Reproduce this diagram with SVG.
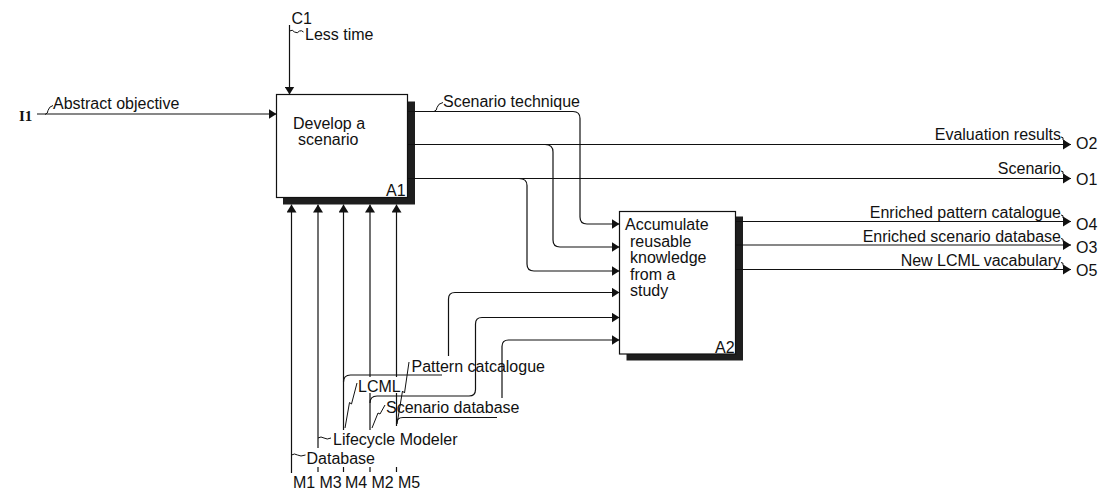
<svg xmlns="http://www.w3.org/2000/svg" width="1106" height="492" viewBox="0 0 1106 492">
<style>
.ln{fill:none;stroke:#111;stroke-width:1.2}
.lr{fill:none;stroke:#111;stroke-width:1}
.box{fill:#fff;stroke:#111;stroke-width:1.2}
.sh{fill:#1e1e1e}
text{font-family:"Liberation Sans",Arial,sans-serif;font-size:16px;fill:#111}
.sf{font-family:"Liberation Serif","Times New Roman",serif;font-size:15px;font-weight:bold}
.e{text-anchor:end}
</style>
<defs>
<marker id="ah" viewBox="0 0 8 10" refX="8" refY="5" markerWidth="8" markerHeight="10" markerUnits="userSpaceOnUse" orient="auto"><path d="M0,0 L8,5 L0,10 z" fill="#111"/></marker>
</defs>
<rect width="1106" height="492" fill="#fff"/>

<g id="A1">
<rect class="sh" x="283" y="101.5" width="132" height="103"/>
<rect class="box" x="276.5" y="94.5" width="131" height="103"/>
<text x="293" y="129">Develop a</text>
<text x="298" y="145">scenario</text>
<text x="386" y="196">A1</text>
</g>

<g id="A2">
<rect class="sh" x="626.5" y="216.5" width="116.5" height="144"/>
<rect class="box" x="619.5" y="211.5" width="116" height="142.5"/>
<text x="625" y="230">Accumulate</text>
<text x="630" y="246.5">reusable</text>
<text x="630" y="263">knowledge</text>
<text x="630" y="280">from a</text>
<text x="630" y="296">study</text>
<text x="715" y="353">A2</text>
</g>

<g id="connectors">
<path class="ln" d="M289.5,25 V94.5" marker-end="url(#ah)"/>
<path class="ln" d="M37,114 H276.5" marker-end="url(#ah)"/>
<path class="ln" d="M408,111.5 H573 Q580,111.5 580,118.5 V217 Q580,224 587,224 H619.5" marker-end="url(#ah)"/>
<path class="ln" d="M408,144.5 H1071" marker-end="url(#ah)"/>
<path class="ln" d="M545,144.5 Q553,144.5 553,152 V240 Q553,247 560,247 H619.5" marker-end="url(#ah)"/>
<path class="ln" d="M408,178.5 H1071" marker-end="url(#ah)"/>
<path class="ln" d="M519,178.5 Q527,178.5 527,185.5 V264 Q527,271 534,271 H619.5" marker-end="url(#ah)"/>
<path class="ln" d="M735,221.5 H1071" marker-end="url(#ah)"/>
<path class="ln" d="M735,245 H1071" marker-end="url(#ah)"/>
<path class="ln" d="M735,269.5 H1071" marker-end="url(#ah)"/>
<path class="ln" d="M291.5,473 V204.5" marker-end="url(#ah)"/>
<path class="ln" d="M318,448 V204.5" marker-end="url(#ah)"/>
<path class="ln" d="M343.5,430 V204.5" marker-end="url(#ah)"/>
<path class="ln" d="M370,377 V204.5" marker-end="url(#ah)"/>
<path class="ln" d="M396.5,377 V204.5" marker-end="url(#ah)"/>
<path class="ln" d="M370,393 V430 M396.5,393 V426"/>
<path class="ln" d="M318,467 V472 M343.5,467 V472 M370,467 V472 M396.5,467 V472"/>
<path class="ln" d="M343.5,382 Q343.5,375 350.5,375 H442"/>
<path class="ln" d="M448.5,356 V299 Q448.5,292.5 455,292.5 H619.5" marker-end="url(#ah)"/>
<path class="ln" d="M370,403 Q370,396 377,396 H469 Q475.5,396 475.5,389.5 V324 Q475.5,317.5 482,317.5 H619.5" marker-end="url(#ah)"/>
<path class="ln" d="M396.5,424 Q396.5,417.5 403,417.5 H497"/>
<path class="ln" d="M502,398 V346.5 Q502,340 508.5,340 H619.5" marker-end="url(#ah)"/>
</g>

<g id="leaders">
<path class="lr" d="M45,114.5 q3,-1 3,-4 q1,-4 5,-5"/>
<path class="lr" d="M289.5,31 q3,-2 5,1 q3,2 5,-1 q2,-1 4,1"/>
<path class="lr" d="M434,111.5 q3,-1 3,-4 q1,-4 6,-5"/>
<path class="lr" d="M1061,137 q3,0 2,3 q2,0 3,4"/>
<path class="lr" d="M1061,171 q3,0 2,3 q2,0 3,4"/>
<path class="lr" d="M1061,215 q3,0 2,3 q2,0 3,3.5"/>
<path class="lr" d="M1061,238.5 q3,0 2,3 q2,0 3,3.5"/>
<path class="lr" d="M1061,262.5 q3,0 2,3 q2,0 3,4"/>
<path class="lr" d="M409,362 L404.5,393 L402.5,391 L397,424"/>
<path class="lr" d="M357,383 L351.5,404 L349.5,402.5 L345,428"/>
<path class="lr" d="M385,405 L380,414 L378,413 L372,428"/>
<path class="lr" d="M318,438 q3,-2 6,0 q3,2 7,0"/>
<path class="lr" d="M291.5,455 q3,-2 6,0 q3,2 8,0"/>
</g>

<g id="labels">
<text x="291.5" y="23.5">C1</text>
<text x="305" y="39.5">Less time</text>
<text class="sf" x="19" y="121">I1</text>
<text x="53" y="109">Abstract objective</text>
<text x="443" y="107">Scenario technique</text>
<text class="e" x="1061" y="140">Evaluation results</text>
<text class="e" x="1061" y="174">Scenario</text>
<text class="e" x="1061" y="218">Enriched pattern catalogue</text>
<text class="e" x="1061" y="241.5">Enriched scenario database</text>
<text class="e" x="1061" y="265.5">New LCML vacabulary</text>
<text x="1076" y="149">O2</text>
<text x="1076" y="185">O1</text>
<text x="1076" y="230">O4</text>
<text x="1076" y="253">O3</text>
<text x="1076" y="276">O5</text>
<text x="411.5" y="371.5">Pattern catcalogue</text>
<text x="358" y="392">LCML</text>
<text x="386" y="413">Scenario database</text>
<text x="333" y="445">Lifecycle Modeler</text>
<text x="306.5" y="463.5">Database</text>
<text x="293" y="488">M1</text>
<text x="319.5" y="488">M3</text>
<text x="345" y="488">M4</text>
<text x="371.5" y="488">M2</text>
<text x="398" y="488">M5</text>
</g>
</svg>
